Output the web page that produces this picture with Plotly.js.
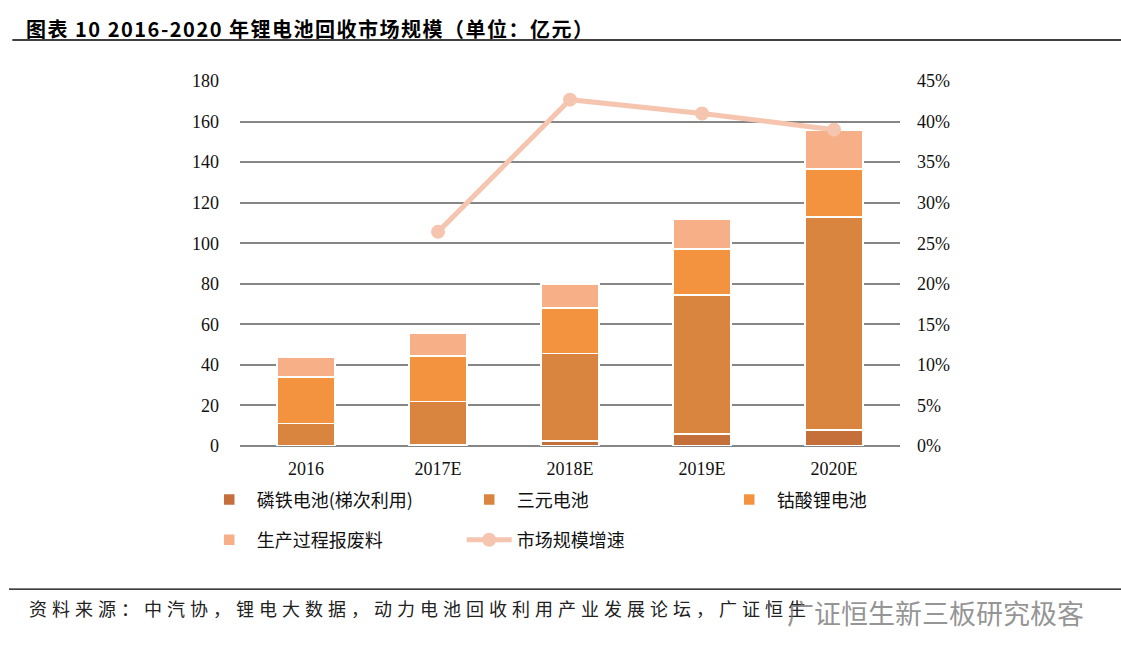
<!DOCTYPE html>
<html>
<head>
<meta charset="utf-8">
<script src="https://cdn.plot.ly/plotly-3.0.1.min.js"></script>
<style>
  body { margin: 0; background: #fff; }
  #plotArea { width: 1121px; height: 663px; }
</style>
</head>
<body>
<div id="plotArea"></div>
<script>
var years = ["2016", "2017E", "2018E", "2019E", "2020E"];
var lfp = [0, 0.5, 2.5, 6, 8];          // 磷铁电池(梯次利用)
var ncm = [11, 21.5, 43, 68.5, 105];    // 三元电池
var lco = [23, 22.5, 22.5, 22.7, 23.5]; // 钴酸锂电池
var scrap = [10, 11, 12, 14.5, 19];     // 生产过程报废料
var growth = [null, 0.264, 0.427, 0.41, 0.39]; // 市场规模增速

var cjk = '"Noto Sans CJK SC", sans-serif';
var serif = '"Liberation Serif", "DejaVu Serif", serif';

function barTrace(name, vals, color, leg) {
    return {
        x: years, y: vals, name: name, type: "bar", legend: leg,
        marker: {color: color, line: {color: "#fff", width: 1.5}},
        hoverinfo: "y"
    };
}

var data = [
    barTrace("磷铁电池(梯次利用)", lfp, "#C5703A", "legend"),
    barTrace("三元电池", ncm, "#D9853F", "legend"),
    barTrace("钴酸锂电池", lco, "#F4933F", "legend"),
    barTrace("生产过程报废料", scrap, "#F6AF86", "legend2"),
    {
        x: years, y: growth, name: "市场规模增速", yaxis: "y2", legend: "legend2",
        type: "scatter", mode: "lines+markers",
        line: {color: "#F5C5AF", width: 5},
        marker: {color: "#F5C5AF", size: 14},
        connectgaps: false
    }
];

var legendBase = {
    orientation: "h", x: -0.058, xanchor: "left", yanchor: "top",
    itemwidth: 45,
    entrywidth: 200, entrywidthmode: "pixels", traceorder: "normal",
    font: {family: cjk, size: 18, color: "#111"}
};

var layout = {
    width: 1121, height: 663,
    margin: {l: 240, r: 221, t: 81, b: 217},
    paper_bgcolor: "#fff", plot_bgcolor: "#fff",
    barmode: "stack",
    bargap: 0.56,
    showlegend: true,
    font: {family: serif, size: 18, color: "#111"},
    xaxis: {
        type: "category", showgrid: false, zeroline: false,
        showline: false, ticks: "", ticklabelstandoff: 10,
        tickfont: {family: serif, size: 18}
    },
    yaxis: {
        range: [0, 180], dtick: 20, showgrid: true, gridcolor: "#868686", gridwidth: 2,
        zeroline: true, zerolinecolor: "#868686", zerolinewidth: 2,
        showline: false, ticks: "", ticklabelstandoff: 20,
        tickfont: {family: serif, size: 18}
    },
    yaxis2: {
        overlaying: "y", side: "right", range: [0, 0.45], dtick: 0.05,
        tickformat: ".0%", showgrid: false, zeroline: false, showline: false,
        ticks: "", ticklabelstandoff: 16, tickfont: {family: serif, size: 18}
    },
    legend: Object.assign({}, legendBase, {y: -0.097}),
    legend2: Object.assign({}, legendBase, {y: -0.207}),
    shapes: [
        {type: "line", xref: "paper", yref: "paper", x0: -0.345, x1: 1.34, y0: 1.112, y1: 1.112,
         line: {color: "#000", width: 1.5}},
        {type: "line", xref: "paper", yref: "paper", x0: -0.35, x1: 1.34, y0: -0.392, y1: -0.392,
         line: {color: "#000", width: 1.2}}
    ],
    annotations: [
        {xref: "paper", yref: "paper", x: -0.328, y: 1.145, xanchor: "left", yanchor: "middle",
         showarrow: false,
         text: "<b><span style='letter-spacing:1.5px'>图表 10 2016-2020 年锂电池回收市场规模（单位：亿元）</span></b>",
         font: {family: cjk, size: 20, color: "#000"}},
        {xref: "paper", yref: "paper", x: -0.323, y: -0.445, xanchor: "left", yanchor: "middle",
         showarrow: false,
         text: "<span style='letter-spacing:5px'>资料来源：中汽协，锂电大数据，动力电池回收利用产业发展论坛，广证恒生</span>",
         font: {family: cjk, size: 18, color: "#222"}},
        {xref: "paper", yref: "paper", x: 1.282, y: -0.455, xanchor: "right", yanchor: "middle",
         showarrow: false, text: "广证恒生新三板研究极客",
         font: {family: cjk, size: 27, color: "rgba(120,120,120,0.8)"}}
    ]
};

Plotly.newPlot("plotArea", data, layout, {displayModeBar: false, staticPlot: true});
</script>
</body>
</html>
